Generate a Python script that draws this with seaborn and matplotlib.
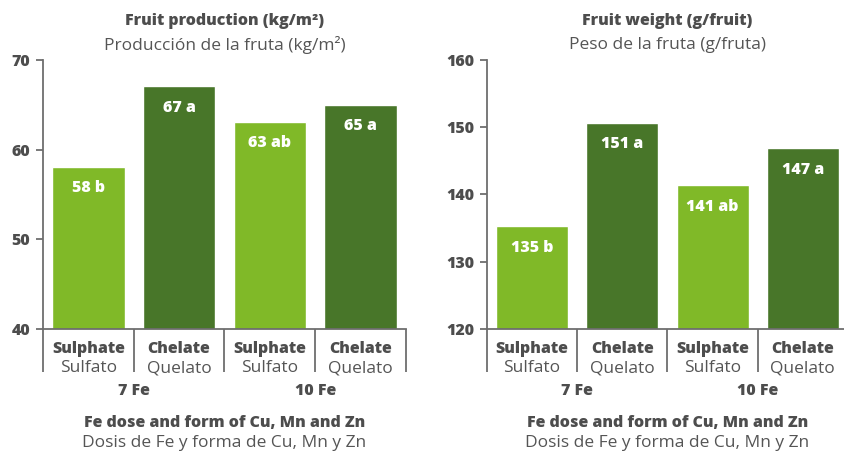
import matplotlib
matplotlib.use('Agg')
import matplotlib.pyplot as plt
import seaborn as sns
import pandas as pd

# data
bar_keys = ['7 Fe Sulphate', '7 Fe Chelate', '10 Fe Sulphate', '10 Fe Chelate']
forms_en = ['Sulphate', 'Chelate', 'Sulphate', 'Chelate']
forms_es = ['Sulfato', 'Quelato', 'Sulfato', 'Quelato']
doses = ['7 Fe', '10 Fe']

production = [58.1, 67.1, 63.1, 65.0]
production_labels = ['58 b', '67 a', '63 ab', '65 a']
weight = [135.3, 150.7, 141.4, 146.9]
weight_labels = ['135 b', '151 a', '141 ab', '147 a']

LIGHT = '#80b928'
DARK = '#487629'
AXIS = '#6e6e6e'
TXT_B = '#4d4d4d'
TXT_R = '#555555'
FS_B = 11.5   # bold (english) text
FS_R = 12.5   # regular (spanish) text
BW = 'heavy'

sns.set_theme(style='white')
plt.rcParams['font.family'] = ['Open Sans', 'DejaVu Sans']


def panel(ax, values, labels, ylim, yticks, title_en, title_es):
    df = pd.DataFrame({'bar': bar_keys, 'value': values, 'form': forms_en})
    sns.barplot(data=df, x='bar', y='value', hue='form', order=bar_keys,
                palette={'Sulphate': LIGHT, 'Chelate': DARK}, dodge=False,
                width=0.8, saturation=1, legend=False, ax=ax)
    ax.set_xlim(-0.5, 3.5)
    ax.set_ylim(*ylim)
    ax.set_yticks(yticks)
    ax.set_xticks([])
    ax.set_xlabel('')
    ax.set_ylabel('')
    for s in ['top', 'right']:
        ax.spines[s].set_visible(False)
    for s in ['left', 'bottom']:
        ax.spines[s].set_color(AXIS)
        ax.spines[s].set_linewidth(1.3)
    ax.tick_params(axis='y', direction='out', length=5, width=1.3, color=AXIS,
                   pad=4, labelsize=FS_B, labelcolor=TXT_B, left=True)
    for t in ax.get_yticklabels():
        t.set_fontweight(BW)

    # value labels inside bars
    for i, (v, lab) in enumerate(zip(values, labels)):
        ax.annotate(lab, (i, v), xytext=(0, -15.5), textcoords='offset points',
                    ha='center', va='center', color='white',
                    fontweight=BW, fontsize=FS_B)

    tr = ax.get_xaxis_transform()
    # separators below the axis
    for xs in [-0.5, 0.5, 1.5, 2.5, 3.5]:
        ax.plot([xs, xs], [0, -0.16], transform=tr, color=AXIS, lw=1.3,
                clip_on=False, solid_capstyle='butt')
    # category labels
    for i, (en, es) in enumerate(zip(forms_en, forms_es)):
        ax.text(i, -0.074, en, transform=tr, ha='center', va='center',
                fontsize=FS_B, fontweight=BW, color=TXT_B)
        ax.text(i, -0.145, es, transform=tr, ha='center', va='center',
                fontsize=FS_R, color=TXT_R)
    for j, d in enumerate(doses):
        ax.text(2 * j + 0.5, -0.23, d, transform=tr, ha='center', va='center',
                fontsize=FS_B, fontweight=BW, color=TXT_B)
    # axis title
    ax.text(0.5, -0.349, 'Fe dose and form of Cu, Mn and Zn', transform=ax.transAxes,
            ha='center', va='center', fontsize=FS_B, fontweight=BW, color=TXT_B)
    ax.text(0.5, -0.424, 'Dosis de Fe y forma de Cu, Mn y Zn', transform=ax.transAxes,
            ha='center', va='center', fontsize=FS_R, color=TXT_R)
    # chart title
    ax.text(0.5, 1.145, title_en, transform=ax.transAxes, ha='center', va='center',
            fontsize=FS_B, fontweight=BW, color=TXT_B)
    ax.text(0.5, 1.056, title_es, transform=ax.transAxes, ha='center', va='center',
            fontsize=FS_R, color=TXT_R)


fig = plt.figure(figsize=(8.45, 4.51), dpi=100)
ax1 = fig.add_axes([43 / 845, 1 - 329 / 451, 363 / 845, 269 / 451])
ax2 = fig.add_axes([487 / 845, 1 - 329 / 451, 361 / 845, 269 / 451])

panel(ax1, production, production_labels, (40, 70), [40, 50, 60, 70],
      'Fruit production (kg/m²)', 'Producción de la fruta (kg/m²)')
panel(ax2, weight, weight_labels, (120, 160), [120, 130, 140, 150, 160],
      'Fruit weight (g/fruit)', 'Peso de la fruta (g/fruta)')

fig.savefig('out.png', dpi=100)
